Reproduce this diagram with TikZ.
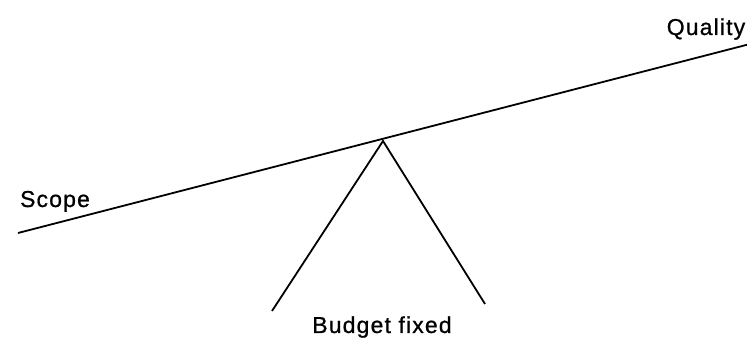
\documentclass[tikz,border=0pt]{standalone}
\usepackage{fontspec}
\setmainfont{Liberation Sans}[LetterSpace=5,FakeBold=0.8]
\begin{document}
\begin{tikzpicture}[x=1pt,y=1pt,
  beam/.style={line width=1.8pt,black},
  lbl/.style={anchor=base,inner sep=0pt,font=\fontsize{23}{27}\selectfont}]
\useasboundingbox (0,0) rectangle (747,340);
\coordinate (L) at (18,107);
\coordinate (R) at (750,296);
\coordinate (A) at (383,199);
\coordinate (BL) at (272,29);
\coordinate (BR) at (485,36);
\draw[beam] (L) -- (R);
\draw[beam] (BL) -- (A) -- (BR);
\node[lbl] (q) at (706,305) {Quality};
\node[lbl] (s) at (55,133) {Scope};
\node[lbl] (b) at (382,7) {Budget fixed};
\end{tikzpicture}
\end{document}
